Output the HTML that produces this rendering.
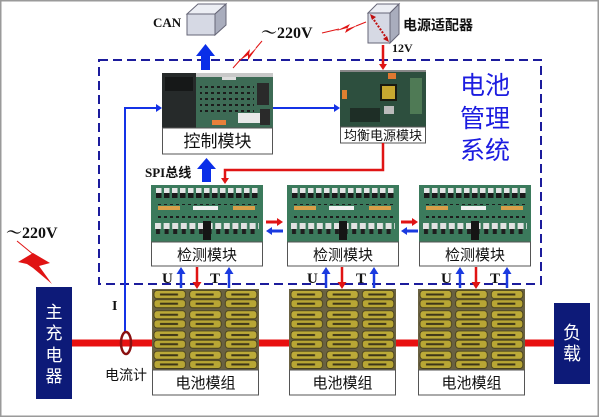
<!DOCTYPE html>
<html><head><meta charset="utf-8">
<style>
html,body{margin:0;padding:0;background:#fff;}
svg{display:block;}
.cn{font-family:"Liberation Sans","Noto Sans CJK SC",sans-serif;}
.sr{font-family:"Liberation Serif","Noto Serif CJK SC",serif;font-weight:bold;}
</style></head><body>
<svg width="600" height="418" viewBox="0 0 600 418" xmlns="http://www.w3.org/2000/svg">
<defs>
  <pattern id="dtop" x="5" y="3" width="8" height="12" patternUnits="userSpaceOnUse">
    <rect x="0" y="0" width="5.5" height="5" fill="#e6e6e6"/>
    <rect x="0" y="5" width="5.5" height="5" fill="#1a1a1a"/>
  </pattern>
  <pattern id="dmid" x="0" y="0" width="6" height="6" patternUnits="userSpaceOnUse">
    <rect x="1" y="1" width="3" height="2" fill="#1c1c1c"/>
  </pattern>
  <pattern id="dbot" x="4" y="38" width="8.6" height="14" patternUnits="userSpaceOnUse">
    <rect x="0" y="0" width="6" height="6" fill="#e2e2e2"/>
    <rect x="1" y="6" width="4" height="5" fill="#1e1e1e"/>
  </pattern>
  <pattern id="cell" x="0" y="0" width="35.67" height="20.25" patternUnits="userSpaceOnUse">
    <rect x="2" y="1.5" width="31.5" height="8" rx="3" fill="#bcaa38" stroke="#3e3718" stroke-width="0.8"/>
    <rect x="2" y="10.7" width="31.5" height="8" rx="3" fill="#b8a634" stroke="#3e3718" stroke-width="0.8"/>
    <rect x="8" y="4.5" width="18" height="2" fill="#3d3518"/>
    <rect x="8" y="13.7" width="18" height="2" fill="#3d3518"/>
  </pattern>

  <g id="det">
    <rect x="0" y="0" width="112" height="57" fill="#3b7a5c"/>
    <rect x="5" y="3" width="104" height="11" fill="url(#dtop)"/>
    <rect x="4" y="15" width="104" height="5" fill="url(#dmid)"/>
    <rect x="7" y="21" width="22" height="4" fill="#d8a04a"/>
    <rect x="82" y="21" width="22" height="4" fill="#d8a04a"/>
    <rect x="42" y="21" width="25" height="4" fill="#f0f0f0"/>
    <rect x="4" y="27" width="104" height="9" fill="url(#dmid)"/>
    <rect x="4" y="38" width="104" height="14" fill="url(#dbot)"/>
    <rect x="52" y="36" width="8" height="19" fill="#151515"/>
    <rect x="0.5" y="57" width="111" height="24" fill="#fff" stroke="#555" stroke-width="1"/>
    <text x="56" y="75" class="cn" font-size="15" text-anchor="middle" fill="#111">检测模块</text>
  </g>

  <g id="bat">
    <rect x="0" y="0" width="107" height="81" fill="#6a6242"/>
    <rect x="0" y="0" width="107" height="81" fill="url(#cell)"/>
    <rect x="0.5" y="81" width="106" height="25" fill="#fff" stroke="#555" stroke-width="1"/>
    <text x="53.5" y="99" class="cn" font-size="15" text-anchor="middle" fill="#111">电池模组</text>
  </g>

  <g id="upB">
    <line x1="0" y1="21" x2="0" y2="6" stroke="#1a3ae0" stroke-width="2.5"/>
    <polygon points="-4.5,7 0,0 4.5,7" fill="#1a3ae0"/>
  </g>
  <g id="dnR">
    <line x1="0" y1="0" x2="0" y2="16" stroke="#e01414" stroke-width="2.5"/>
    <polygon points="-4.5,15 0,22 4.5,15" fill="#e01414"/>
  </g>
  <g id="lr">
    <line x1="0" y1="0" x2="12" y2="0" stroke="#e01414" stroke-width="3"/>
    <polygon points="11,-4 17,0 11,4" fill="#e01414"/>
    <line x1="5" y1="9" x2="17" y2="9" stroke="#1a3ae0" stroke-width="3"/>
    <polygon points="6,5 0,9 6,13" fill="#1a3ae0"/>
  </g>
</defs>

<rect x="0.75" y="0.75" width="597.5" height="415.5" fill="#fff" stroke="#9a9a9a" stroke-width="1.5"/>

<rect x="99" y="60" width="442" height="224" fill="none" stroke="#1c1c9c" stroke-width="2" stroke-dasharray="9 5"/>

<rect x="72" y="339.5" width="482" height="7" fill="#e81010"/>

<polygon points="187,14 198,4 226,4 215,14" fill="#eceef4" stroke="#667" stroke-width="1"/>
<polygon points="215,14 226,4 226,25 215,35" fill="#a9adbd" stroke="#667" stroke-width="1"/>
<rect x="187" y="14" width="28" height="21" fill="#d6d9e4" stroke="#667" stroke-width="1"/>
<text x="153" y="27" class="sr" font-size="13" fill="#111">CAN</text>

<polygon points="368,13 377,4 399,4 390,13" fill="#eceef4" stroke="#667" stroke-width="1"/>
<polygon points="390,13 399,4 399,34 390,43" fill="#a9adbd" stroke="#667" stroke-width="1"/>
<rect x="368" y="13" width="22" height="30" fill="#d6d9e4" stroke="#667" stroke-width="1"/>
<line x1="372" y1="17" x2="387" y2="39" stroke="#c01010" stroke-width="2" stroke-dasharray="2 1.5"/>
<polygon points="370,14 376,17 372,20" fill="#c01010"/>
<polygon points="389,42 383,39 387,36" fill="#c01010"/>
<text x="403" y="30" class="cn" font-size="14" font-weight="bold" fill="#111">电源适配器</text>
<text x="392" y="52" class="sr" font-size="12" fill="#111">12V</text>

<text x="261" y="38" class="sr" font-size="16" fill="#111">～220V</text>
<line x1="233" y1="68" x2="241" y2="59" stroke="#e01414" stroke-width="1"/>
<polygon points="239,61 250,49 249,55 258,46 248,60 248,55" fill="#e01414"/>
<line x1="256" y1="48" x2="262" y2="41" stroke="#e01414" stroke-width="1"/>
<line x1="322" y1="33" x2="339" y2="29" stroke="#e01414" stroke-width="1"/>
<polygon points="336,31 350,24 347,29 358,25 345,33 347,28" fill="#e01414"/>
<line x1="356" y1="26" x2="366" y2="22" stroke="#e01414" stroke-width="1"/>

<polygon points="201,70 201,56 196,56 205.5,44 215,56 210,56 210,70" fill="#0a2ee8"/>

<g transform="translate(162,73)">
  <rect x="0" y="0" width="111" height="55" fill="#3d6b55"/>
  <rect x="0" y="0" width="111" height="4" fill="#c8c8c8"/>
  <rect x="0" y="0" width="34" height="55" fill="#262a2a"/>
  <rect x="3" y="4" width="28" height="14" fill="#161818"/>
  <rect x="60" y="4" width="14" height="3" fill="#ddd"/>
  <rect x="38" y="10" width="54" height="30" fill="url(#dmid)"/>
  <rect x="95" y="10" width="12" height="22" fill="#2a2a2a"/>
  <rect x="98" y="36" width="10" height="16" fill="#2a2a2a"/>
  <rect x="76" y="40" width="22" height="10" fill="#e8e8e8"/>
  <rect x="50" y="47" width="14" height="5" fill="#e8803a"/>
  <rect x="0.5" y="55" width="110" height="26" fill="#fff" stroke="#555" stroke-width="1"/>
  <text x="55.5" y="74" class="cn" font-size="17" text-anchor="middle" fill="#111">控制模块</text>
</g>

<g transform="translate(340,70)">
  <rect x="0" y="0" width="86" height="57" fill="#2d4f3e"/>
  <rect x="0" y="0" width="86" height="2" fill="#888"/>
  <rect x="48" y="3" width="8" height="6" fill="#e07830"/>
  <rect x="2" y="20" width="5" height="9" fill="#e08030"/>
  <rect x="40" y="14" width="17" height="17" fill="#1a1a10"/>
  <rect x="42" y="16" width="13" height="13" fill="#c8a830"/>
  <rect x="70" y="8" width="12" height="36" fill="#4f7a55"/>
  <rect x="10" y="38" width="30" height="14" fill="#1e2e26"/>
  <rect x="44" y="36" width="10" height="8" fill="#bbb"/>
  <rect x="0.5" y="57" width="85" height="16" fill="#fff" stroke="#555" stroke-width="1"/>
  <text x="43" y="70" class="cn" font-size="13" text-anchor="middle" fill="#111">均衡电源模块</text>
</g>

<path d="M125,333 V108 H157" fill="none" stroke="#1432e6" stroke-width="2"/>
<polygon points="156,104 162,108 156,112" fill="#1432e6"/>
<line x1="273" y1="108" x2="335" y2="108" stroke="#1432e6" stroke-width="2"/>
<polygon points="334,104 340,108 334,112" fill="#1432e6"/>

<line x1="383" y1="45" x2="383" y2="65" stroke="#e01414" stroke-width="2.5"/>
<polygon points="379,64 383,70 387,64" fill="#e01414"/>
<path d="M383,143 V170 H225 V179" fill="none" stroke="#e01414" stroke-width="2.5"/>
<polygon points="221,178 225,184 229,178" fill="#e01414"/>

<text x="145" y="177" class="sr" font-size="13" fill="#111">SPI<tspan class="cn" font-weight="bold">总线</tspan></text>
<polygon points="202,182 202,169 197,169 206.5,158 216,169 211,169 211,182" fill="#0a2ee8"/>

<use href="#det" transform="translate(151,185)"/>
<use href="#det" transform="translate(287,185)"/>
<use href="#det" transform="translate(419,185)"/>

<use href="#lr" transform="translate(266,222)"/>
<use href="#lr" transform="translate(401,222)"/>

<use href="#bat" transform="translate(152,289)"/>
<use href="#bat" transform="translate(289,289)"/>
<use href="#bat" transform="translate(418,289)"/>

<text x="162" y="283" class="sr" font-size="15" fill="#111">U</text>
<use href="#upB" transform="translate(181,267)"/>
<use href="#dnR" transform="translate(197,267)"/>
<text x="210" y="283" class="sr" font-size="15" fill="#111">T</text>
<use href="#upB" transform="translate(229,267)"/>

<text x="307" y="283" class="sr" font-size="15" fill="#111">U</text>
<use href="#upB" transform="translate(326,267)"/>
<use href="#dnR" transform="translate(342,267)"/>
<text x="356" y="283" class="sr" font-size="15" fill="#111">T</text>
<use href="#upB" transform="translate(374,267)"/>

<text x="441" y="283" class="sr" font-size="15" fill="#111">U</text>
<use href="#upB" transform="translate(460,267)"/>
<use href="#dnR" transform="translate(476,267)"/>
<text x="490" y="283" class="sr" font-size="15" fill="#111">T</text>
<use href="#upB" transform="translate(507,267)"/>

<text x="485" y="94" class="cn" font-size="25" text-anchor="middle" fill="#1c1ce0">电池</text>
<text x="485" y="127" class="cn" font-size="25" text-anchor="middle" fill="#1c1ce0">管理</text>
<text x="485" y="159" class="cn" font-size="25" text-anchor="middle" fill="#1c1ce0">系统</text>

<text x="6" y="238" class="sr" font-size="16" fill="#111">～220V</text>
<line x1="17" y1="241" x2="34" y2="255" stroke="#e01414" stroke-width="1"/>
<polygon points="18,262 33,253 50,263 39,266 52,284 33,268 27,264" fill="#e01414"/>

<rect x="36" y="287" width="36" height="112" fill="#0d1a78"/>
<text x="54" y="318" class="cn" font-size="17" text-anchor="middle" fill="#fff">主</text>
<text x="54" y="339" class="cn" font-size="17" text-anchor="middle" fill="#fff">充</text>
<text x="54" y="361" class="cn" font-size="17" text-anchor="middle" fill="#fff">电</text>
<text x="54" y="382" class="cn" font-size="17" text-anchor="middle" fill="#fff">器</text>

<rect x="554" y="303" width="36" height="81" fill="#0d1a78"/>
<text x="572" y="339" class="cn" font-size="18" text-anchor="middle" fill="#fff">负</text>
<text x="572" y="360" class="cn" font-size="18" text-anchor="middle" fill="#fff">载</text>

<ellipse cx="126" cy="343" rx="5" ry="11" fill="none" stroke="#8a1010" stroke-width="2.5"/>
<text x="112" y="310" class="sr" font-size="14" fill="#111">I</text>
<text x="105" y="380" class="cn" font-size="14" fill="#111">电流计</text>
</svg>
</body></html>
